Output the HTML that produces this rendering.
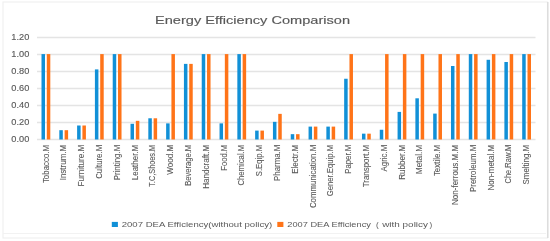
<!DOCTYPE html><html><head><meta charset="utf-8"><style>html,body{margin:0;padding:0;background:#fff;}svg{display:block;filter:blur(0.3px);}text{font-family:"Liberation Sans",sans-serif;}</style></head><body>
<svg width="550" height="241" viewBox="0 0 550 241">
<rect x="0" y="0" width="550" height="241" fill="#fff"/>
<rect x="3" y="2" width="544.5" height="236" fill="none" stroke="#f0f0f0" stroke-width="1.2"/>
<line x1="3" y1="233.5" x2="546" y2="233.5" stroke="#f2f2f2" stroke-width="1"/>
<line x1="547.8" y1="2" x2="547.8" y2="238" stroke="#dcdcdc" stroke-width="1.5"/>
<text x="252.5" y="24.1" font-size="11.5" fill="#595959" stroke="#595959" stroke-width="0.15" text-anchor="middle" textLength="195" lengthAdjust="spacingAndGlyphs">Energy Efficiency Comparison</text>
<line x1="37.0" y1="139.50" x2="535.5" y2="139.50" stroke="#e4e4e4" stroke-width="1.4"/>
<text x="29.3" y="142.20" font-size="8.4" fill="#595959" stroke="#595959" stroke-width="0.12" text-anchor="end" textLength="18" lengthAdjust="spacingAndGlyphs">0.00</text>
<line x1="37.0" y1="122.50" x2="535.5" y2="122.50" stroke="#e4e4e4" stroke-width="1.4"/>
<text x="29.3" y="125.20" font-size="8.4" fill="#595959" stroke="#595959" stroke-width="0.12" text-anchor="end" textLength="18" lengthAdjust="spacingAndGlyphs">0.20</text>
<line x1="37.0" y1="105.50" x2="535.5" y2="105.50" stroke="#e4e4e4" stroke-width="1.4"/>
<text x="29.3" y="108.20" font-size="8.4" fill="#595959" stroke="#595959" stroke-width="0.12" text-anchor="end" textLength="18" lengthAdjust="spacingAndGlyphs">0.40</text>
<line x1="37.0" y1="88.50" x2="535.5" y2="88.50" stroke="#e4e4e4" stroke-width="1.4"/>
<text x="29.3" y="91.20" font-size="8.4" fill="#595959" stroke="#595959" stroke-width="0.12" text-anchor="end" textLength="18" lengthAdjust="spacingAndGlyphs">0.60</text>
<line x1="37.0" y1="71.50" x2="535.5" y2="71.50" stroke="#e4e4e4" stroke-width="1.4"/>
<text x="29.3" y="74.20" font-size="8.4" fill="#595959" stroke="#595959" stroke-width="0.12" text-anchor="end" textLength="18" lengthAdjust="spacingAndGlyphs">0.80</text>
<line x1="37.0" y1="54.50" x2="535.5" y2="54.50" stroke="#e4e4e4" stroke-width="1.4"/>
<text x="29.3" y="57.20" font-size="8.4" fill="#595959" stroke="#595959" stroke-width="0.12" text-anchor="end" textLength="18" lengthAdjust="spacingAndGlyphs">1.00</text>
<line x1="37.0" y1="37.50" x2="535.5" y2="37.50" stroke="#e4e4e4" stroke-width="1.4"/>
<text x="29.3" y="40.20" font-size="8.4" fill="#595959" stroke="#595959" stroke-width="0.12" text-anchor="end" textLength="18" lengthAdjust="spacingAndGlyphs">1.20</text>
<rect x="41.50" y="54.10" width="3.5" height="85.40" fill="#1190d7"/>
<rect x="46.80" y="54.10" width="3.5" height="85.40" fill="#ff7418"/>
<text transform="translate(48.60,144.8) rotate(-90)" font-size="8.4" fill="#595959" stroke="#595959" stroke-width="0.1" text-anchor="end" textLength="38.3" lengthAdjust="spacingAndGlyphs">Tobacco.M</text>
<rect x="59.31" y="130.18" width="3.5" height="9.32" fill="#1190d7"/>
<rect x="64.61" y="130.18" width="3.5" height="9.32" fill="#ff7418"/>
<text transform="translate(66.41,144.8) rotate(-90)" font-size="8.4" fill="#595959" stroke="#595959" stroke-width="0.1" text-anchor="end" textLength="35.5" lengthAdjust="spacingAndGlyphs">Instrum.M</text>
<rect x="77.11" y="125.50" width="3.5" height="14.00" fill="#1190d7"/>
<rect x="82.41" y="125.50" width="3.5" height="14.00" fill="#ff7418"/>
<text transform="translate(84.21,144.8) rotate(-90)" font-size="8.4" fill="#595959" stroke="#595959" stroke-width="0.1" text-anchor="end" textLength="41.6" lengthAdjust="spacingAndGlyphs">Furniture.M</text>
<rect x="94.91" y="69.40" width="3.5" height="70.10" fill="#1190d7"/>
<rect x="100.21" y="54.10" width="3.5" height="85.40" fill="#ff7418"/>
<text transform="translate(102.01,144.8) rotate(-90)" font-size="8.4" fill="#595959" stroke="#595959" stroke-width="0.1" text-anchor="end" textLength="34.0" lengthAdjust="spacingAndGlyphs">Culture.M</text>
<rect x="112.72" y="54.10" width="3.5" height="85.40" fill="#1190d7"/>
<rect x="118.02" y="54.10" width="3.5" height="85.40" fill="#ff7418"/>
<text transform="translate(119.82,144.8) rotate(-90)" font-size="8.4" fill="#595959" stroke="#595959" stroke-width="0.1" text-anchor="end" textLength="35.5" lengthAdjust="spacingAndGlyphs">Printing.M</text>
<rect x="130.52" y="123.80" width="3.5" height="15.70" fill="#1190d7"/>
<rect x="135.82" y="120.83" width="3.5" height="18.67" fill="#ff7418"/>
<text transform="translate(137.62,144.8) rotate(-90)" font-size="8.4" fill="#595959" stroke="#595959" stroke-width="0.1" text-anchor="end" textLength="35.4" lengthAdjust="spacingAndGlyphs">Leather.M</text>
<rect x="148.32" y="118.28" width="3.5" height="21.22" fill="#1190d7"/>
<rect x="153.62" y="118.28" width="3.5" height="21.22" fill="#ff7418"/>
<text transform="translate(155.42,144.8) rotate(-90)" font-size="8.4" fill="#595959" stroke="#595959" stroke-width="0.1" text-anchor="end" textLength="42.0" lengthAdjust="spacingAndGlyphs">T.C,Shoes.M</text>
<rect x="166.13" y="123.38" width="3.5" height="16.12" fill="#1190d7"/>
<rect x="171.43" y="54.10" width="3.5" height="85.40" fill="#ff7418"/>
<text transform="translate(173.23,144.8) rotate(-90)" font-size="8.4" fill="#595959" stroke="#595959" stroke-width="0.1" text-anchor="end" textLength="30.0" lengthAdjust="spacingAndGlyphs">Wood.M</text>
<rect x="183.93" y="63.88" width="3.5" height="75.62" fill="#1190d7"/>
<rect x="189.23" y="63.88" width="3.5" height="75.62" fill="#ff7418"/>
<text transform="translate(191.03,144.8) rotate(-90)" font-size="8.4" fill="#595959" stroke="#595959" stroke-width="0.1" text-anchor="end" textLength="41.0" lengthAdjust="spacingAndGlyphs">Beverage.M</text>
<rect x="201.73" y="54.10" width="3.5" height="85.40" fill="#1190d7"/>
<rect x="207.03" y="54.10" width="3.5" height="85.40" fill="#ff7418"/>
<text transform="translate(208.83,144.8) rotate(-90)" font-size="8.4" fill="#595959" stroke="#595959" stroke-width="0.1" text-anchor="end" textLength="44.0" lengthAdjust="spacingAndGlyphs">Handcraft.M</text>
<rect x="219.54" y="123.38" width="3.5" height="16.12" fill="#1190d7"/>
<rect x="224.84" y="54.10" width="3.5" height="85.40" fill="#ff7418"/>
<text transform="translate(226.64,144.8) rotate(-90)" font-size="8.4" fill="#595959" stroke="#595959" stroke-width="0.1" text-anchor="end" textLength="26.0" lengthAdjust="spacingAndGlyphs">Food.M</text>
<rect x="237.34" y="54.10" width="3.5" height="85.40" fill="#1190d7"/>
<rect x="242.64" y="54.10" width="3.5" height="85.40" fill="#ff7418"/>
<text transform="translate(244.44,144.8) rotate(-90)" font-size="8.4" fill="#595959" stroke="#595959" stroke-width="0.1" text-anchor="end" textLength="40.8" lengthAdjust="spacingAndGlyphs">Chemical.M</text>
<rect x="255.14" y="130.60" width="3.5" height="8.90" fill="#1190d7"/>
<rect x="260.44" y="130.60" width="3.5" height="8.90" fill="#ff7418"/>
<text transform="translate(262.24,144.8) rotate(-90)" font-size="8.4" fill="#595959" stroke="#595959" stroke-width="0.1" text-anchor="end" textLength="31.4" lengthAdjust="spacingAndGlyphs">S.Eqip.M</text>
<rect x="272.95" y="121.84" width="3.5" height="17.66" fill="#1190d7"/>
<rect x="278.25" y="113.86" width="3.5" height="25.64" fill="#ff7418"/>
<text transform="translate(280.05,144.8) rotate(-90)" font-size="8.4" fill="#595959" stroke="#595959" stroke-width="0.1" text-anchor="end" textLength="36.1" lengthAdjust="spacingAndGlyphs">Pharma.M</text>
<rect x="290.75" y="134.17" width="3.5" height="5.33" fill="#1190d7"/>
<rect x="296.05" y="134.17" width="3.5" height="5.33" fill="#ff7418"/>
<text transform="translate(297.85,144.8) rotate(-90)" font-size="8.4" fill="#595959" stroke="#595959" stroke-width="0.1" text-anchor="end" textLength="29.0" lengthAdjust="spacingAndGlyphs">Electr.M</text>
<rect x="308.56" y="126.61" width="3.5" height="12.89" fill="#1190d7"/>
<rect x="313.86" y="126.61" width="3.5" height="12.89" fill="#ff7418"/>
<text transform="translate(315.66,144.8) rotate(-90)" font-size="8.4" fill="#595959" stroke="#595959" stroke-width="0.1" text-anchor="end" textLength="63.3" lengthAdjust="spacingAndGlyphs">Communication.M</text>
<rect x="326.36" y="126.61" width="3.5" height="12.89" fill="#1190d7"/>
<rect x="331.66" y="126.61" width="3.5" height="12.89" fill="#ff7418"/>
<text transform="translate(333.46,144.8) rotate(-90)" font-size="8.4" fill="#595959" stroke="#595959" stroke-width="0.1" text-anchor="end" textLength="51.5" lengthAdjust="spacingAndGlyphs">Gener.Equip.M</text>
<rect x="344.16" y="78.75" width="3.5" height="60.75" fill="#1190d7"/>
<rect x="349.46" y="54.10" width="3.5" height="85.40" fill="#ff7418"/>
<text transform="translate(351.26,144.8) rotate(-90)" font-size="8.4" fill="#595959" stroke="#595959" stroke-width="0.1" text-anchor="end" textLength="29.0" lengthAdjust="spacingAndGlyphs">Paper.M</text>
<rect x="361.97" y="133.66" width="3.5" height="5.84" fill="#1190d7"/>
<rect x="367.27" y="133.66" width="3.5" height="5.84" fill="#ff7418"/>
<text transform="translate(369.07,144.8) rotate(-90)" font-size="8.4" fill="#595959" stroke="#595959" stroke-width="0.1" text-anchor="end" textLength="42.5" lengthAdjust="spacingAndGlyphs">Transport.M</text>
<rect x="379.77" y="129.75" width="3.5" height="9.75" fill="#1190d7"/>
<rect x="385.07" y="54.10" width="3.5" height="85.40" fill="#ff7418"/>
<text transform="translate(386.87,144.8) rotate(-90)" font-size="8.4" fill="#595959" stroke="#595959" stroke-width="0.1" text-anchor="end" textLength="26.6" lengthAdjust="spacingAndGlyphs">Agric.M</text>
<rect x="397.57" y="111.90" width="3.5" height="27.60" fill="#1190d7"/>
<rect x="402.87" y="54.10" width="3.5" height="85.40" fill="#ff7418"/>
<text transform="translate(404.67,144.8) rotate(-90)" font-size="8.4" fill="#595959" stroke="#595959" stroke-width="0.1" text-anchor="end" textLength="35.0" lengthAdjust="spacingAndGlyphs">Rubber.M</text>
<rect x="415.38" y="98.30" width="3.5" height="41.20" fill="#1190d7"/>
<rect x="420.68" y="54.10" width="3.5" height="85.40" fill="#ff7418"/>
<text transform="translate(422.48,144.8) rotate(-90)" font-size="8.4" fill="#595959" stroke="#595959" stroke-width="0.1" text-anchor="end" textLength="29.4" lengthAdjust="spacingAndGlyphs">Metal.M</text>
<rect x="433.18" y="113.60" width="3.5" height="25.90" fill="#1190d7"/>
<rect x="438.48" y="54.10" width="3.5" height="85.40" fill="#ff7418"/>
<text transform="translate(440.28,144.8) rotate(-90)" font-size="8.4" fill="#595959" stroke="#595959" stroke-width="0.1" text-anchor="end" textLength="31.3" lengthAdjust="spacingAndGlyphs">Textile.M</text>
<rect x="450.98" y="66.00" width="3.5" height="73.50" fill="#1190d7"/>
<rect x="456.28" y="54.10" width="3.5" height="85.40" fill="#ff7418"/>
<text transform="translate(458.08,144.8) rotate(-90)" font-size="8.4" fill="#595959" stroke="#595959" stroke-width="0.1" text-anchor="end" textLength="60.2" lengthAdjust="spacingAndGlyphs">Non-ferrous.M.M</text>
<rect x="468.79" y="54.10" width="3.5" height="85.40" fill="#1190d7"/>
<rect x="474.09" y="54.10" width="3.5" height="85.40" fill="#ff7418"/>
<text transform="translate(475.89,144.8) rotate(-90)" font-size="8.4" fill="#595959" stroke="#595959" stroke-width="0.1" text-anchor="end" textLength="47.1" lengthAdjust="spacingAndGlyphs">Pretroleum.M</text>
<rect x="486.59" y="59.79" width="3.5" height="79.71" fill="#1190d7"/>
<rect x="491.89" y="54.10" width="3.5" height="85.40" fill="#ff7418"/>
<text transform="translate(493.69,144.8) rotate(-90)" font-size="8.4" fill="#595959" stroke="#595959" stroke-width="0.1" text-anchor="end" textLength="45.8" lengthAdjust="spacingAndGlyphs">Non-metal.M</text>
<rect x="504.39" y="62.00" width="3.5" height="77.50" fill="#1190d7"/>
<rect x="509.69" y="54.10" width="3.5" height="85.40" fill="#ff7418"/>
<text transform="translate(511.49,144.8) rotate(-90)" font-size="8.4" fill="#595959" stroke="#595959" stroke-width="0.1" text-anchor="end" textLength="38.7" lengthAdjust="spacingAndGlyphs">Che.Raw.M</text>
<rect x="522.20" y="54.10" width="3.5" height="85.40" fill="#1190d7"/>
<rect x="527.50" y="54.10" width="3.5" height="85.40" fill="#ff7418"/>
<text transform="translate(529.30,144.8) rotate(-90)" font-size="8.4" fill="#595959" stroke="#595959" stroke-width="0.1" text-anchor="end" textLength="39.7" lengthAdjust="spacingAndGlyphs">Smelting.M</text>
<rect x="111.8" y="221.9" width="6.1" height="5.1" fill="#1190d7"/>
<text x="121.7" y="227.3" font-size="8.1" fill="#595959" textLength="150.5" lengthAdjust="spacingAndGlyphs">2007 DEA Efficiency(without policy)</text>
<rect x="277.3" y="221.9" width="6.1" height="5.1" fill="#ff7418"/>
<text x="287.3" y="227.3" font-size="8.1" fill="#595959" textLength="83.6" lengthAdjust="spacingAndGlyphs">2007 DEA Efficiency</text>
<text x="376" y="227.3" font-size="8.1" fill="#595959">(</text>
<text x="382.2" y="227.3" font-size="8.1" fill="#595959" textLength="45.8" lengthAdjust="spacingAndGlyphs">with policy</text>
<text x="429.6" y="227.3" font-size="8.1" fill="#595959">)</text>
</svg></body></html>
